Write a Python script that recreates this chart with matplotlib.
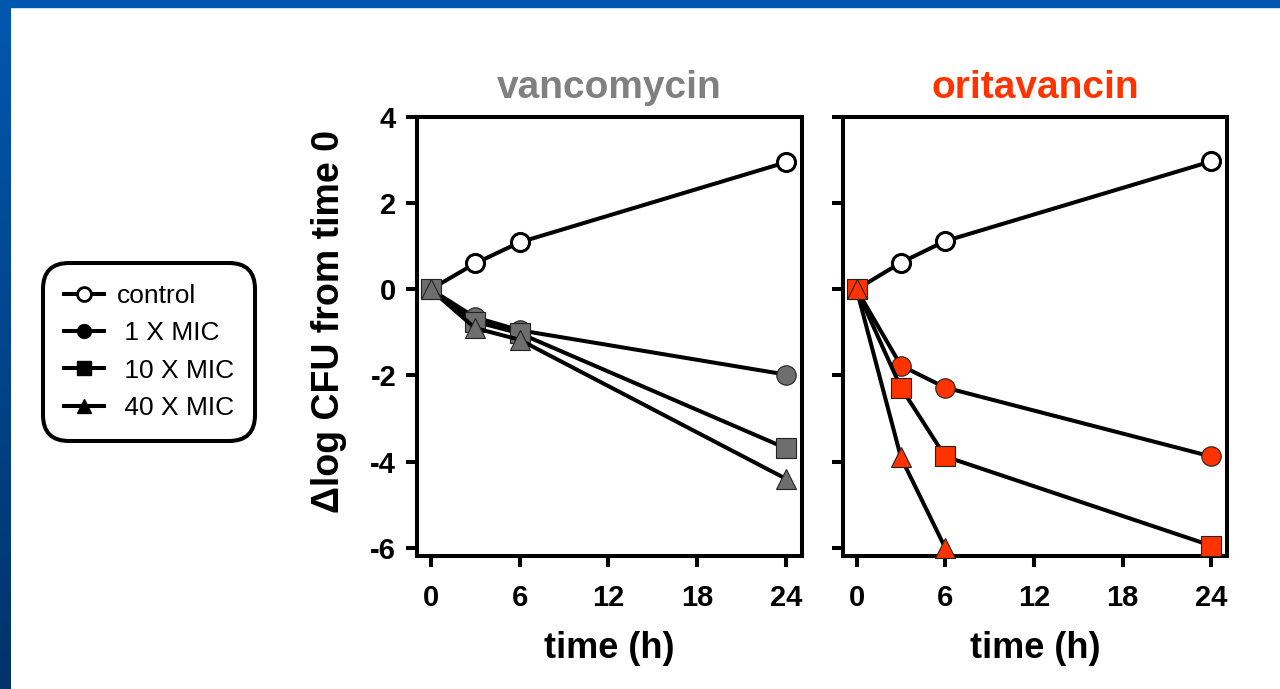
import numpy as np
import matplotlib
matplotlib.use("Agg")
import matplotlib.pyplot as plt
from matplotlib.lines import Line2D
from matplotlib.patches import Rectangle
from matplotlib.colors import LinearSegmentedColormap

plt.rcParams['font.family'] = ['Liberation Sans', 'DejaVu Sans']
plt.rcParams['axes.unicode_minus'] = False

# sampling times (h)
times = [0, 3, 6, 24]

# delta log CFU, vancomycin panel
vanco_control = [0, 0.60, 1.09, 2.95]
vanco_1x = [0, -0.65, -0.95, -1.98]
vanco_10x = [0, -0.75, -1.02, -3.69]
vanco_40x = [0, -0.90, -1.17, -4.40]

# delta log CFU, oritavancin panel
orita_control = [0, 0.62, 1.12, 2.97]
orita_1x = [0, -1.77, -2.28, -3.88]
orita_10x = [0, -2.28, -3.88, -5.95]
orita_40x = [0, -3.90, -6.0]
orita_40x_times = [0, 3, 6]

panel_titles = ['vancomycin', 'oritavancin']
title_colors = ['#808080', '#FF3300']
fill_colors = ['#6E6E6E', '#FF3300']
legend_labels = ['control', ' 1 X MIC', ' 10 X MIC', ' 40 X MIC']
x_ticks = [0, 6, 12, 18, 24]
y_ticks = [-6, -4, -2, 0, 2, 4]

fig = plt.figure(figsize=(12.8, 6.89), dpi=100)
fig.patch.set_facecolor('white')

# slide decoration: top bar + gradient bar on the left
fig.patches.append(Rectangle((0, 1 - 7 / 689), 1, 7 / 689, transform=fig.transFigure,
                             color='#0057B0', zorder=0))
bar = fig.add_axes([0, 0, 11 / 1280, 1 - 7 / 689])
grad = np.linspace(0, 1, 256).reshape(-1, 1)
cmap = LinearSegmentedColormap.from_list('bar', ['#0057B0', '#00336A'])
bar.imshow(grad, aspect='auto', cmap=cmap)
bar.set_axis_off()

lw = 2.9
ax1 = fig.add_axes([417 / 1280, 1 - 556 / 689, 385 / 1280, 439 / 689])
ax2 = fig.add_axes([843 / 1280, 1 - 556 / 689, 384 / 1280, 439 / 689])

panels = [
    (ax1, vanco_control, vanco_1x, vanco_10x, vanco_40x, times),
    (ax2, orita_control, orita_1x, orita_10x, orita_40x, orita_40x_times),
]

for i, (ax, ctrl, s1, s10, s40, t40) in enumerate(panels):
    fc = fill_colors[i]
    ax.plot(times, ctrl, color='black', lw=lw, marker='o', ms=13,
            mfc='white', mec='black', mew=2.2, zorder=3, clip_on=False)
    ax.plot(times, s1, color='black', lw=lw, marker='o', ms=14,
            mfc=fc, mec='#222222', mew=0.8, zorder=3, clip_on=False)
    ax.plot(times, s10, color='black', lw=lw, marker='s', ms=14,
            mfc=fc, mec='#222222', mew=0.8, zorder=3, clip_on=False)
    ax.plot(t40, s40, color='black', lw=lw, marker='^', ms=14,
            mfc=fc, mec='#222222', mew=0.8, zorder=3, clip_on=False)

    ax.set_xlim(-0.92, 25.07)
    ax.set_ylim(-6.19, 4.0)
    ax.set_xticks(x_ticks)
    ax.set_yticks(y_ticks)
    for sp in ax.spines.values():
        sp.set_linewidth(lw)
    ax.tick_params(direction='out', length=8, width=lw, labelsize=21)
    ax.tick_params(axis='x', pad=12)
    ax.tick_params(axis='y', pad=7)
    for lab in ax.get_xticklabels() + ax.get_yticklabels():
        lab.set_fontweight('bold')
    ax.set_xlabel('time (h)', fontsize=26, fontweight='bold', labelpad=14)
    ax.set_title(panel_titles[i], fontsize=28, fontweight='bold',
                 color=title_colors[i], pad=14)

ax1.set_ylabel('\u0394log CFU from time 0', fontsize=27, fontweight='bold')
ax1.yaxis.set_label_coords(-0.183, 0.535)
ax2.tick_params(axis='y', labelleft=False)

handles = [
    Line2D([], [], color='black', lw=lw, marker='o', ms=10, mfc='white', mec='black', mew=2.0),
    Line2D([], [], color='black', lw=lw, marker='o', ms=10, mfc='black', mec='black'),
    Line2D([], [], color='black', lw=lw, marker='s', ms=10, mfc='black', mec='black'),
    Line2D([], [], color='black', lw=lw, marker='^', ms=10, mfc='black', mec='black'),
]
leg = fig.legend(handles, legend_labels, loc='center', bbox_to_anchor=(149 / 1280, 1 - 352 / 689),
                 fontsize=19, handlelength=1.5, handletextpad=0.5, labelspacing=0.5,
                 borderpad=0.8, fancybox=True, frameon=True, framealpha=1)
frame = leg.get_frame()
frame.set_edgecolor('black')
frame.set_linewidth(lw)
frame.set_boxstyle('round', pad=0.0, rounding_size=1.0)

fig.savefig('out.png', dpi=100, facecolor=fig.get_facecolor())
